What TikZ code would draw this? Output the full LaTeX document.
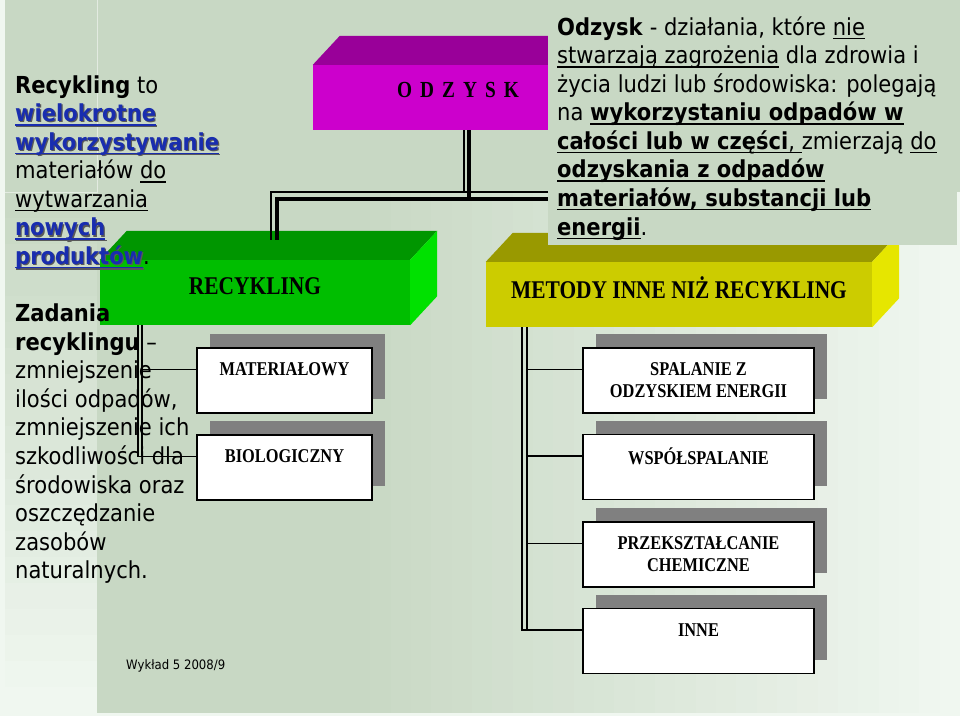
\documentclass[tikz,border=0pt]{standalone}
\usepackage{fontspec}
\usetikzlibrary{calc,shadows}
\newfontfamily\tah[FakeStretch=0.9]{DejaVu Sans}
\newfontfamily\tms[FakeStretch=0.84]{Liberation Serif}
\definecolor{bgA}{RGB}{200,216,196}
\definecolor{bgL}{RGB}{240,247,240}
\definecolor{mfront}{RGB}{204,0,204}
\definecolor{mtop}{RGB}{153,0,153}
\definecolor{gfront}{RGB}{0,190,0}
\definecolor{gtop}{RGB}{0,150,0}
\definecolor{gside}{RGB}{0,225,0}
\definecolor{yfront}{RGB}{204,204,0}
\definecolor{ytop}{RGB}{153,153,0}
\definecolor{yside}{RGB}{230,230,0}
\definecolor{shgray}{RGB}{128,128,128}
\definecolor{linkblue}{RGB}{25,45,175}
\newcommand\myul[1]{\setbox0\hbox{#1}\rlap{\rule[-4pt]{\wd0}{1.5pt}}\box0\relax}
\newcommand\lnk[1]{\rlap{\kern1.2pt\raisebox{-1.2pt}{\color{black!65}\bfseries\myul{#1}}}{\color{linkblue}\bfseries\myul{#1}}}
\tikzset{
  face/.style={inner sep=0pt, minimum height=65pt, font=\tms\bfseries\fontsize{25.5}{30}\selectfont},
  leaf/.style={draw=black, line width=1.5pt, fill=white, minimum width=231pt, minimum height=65pt,
    inner sep=0pt, align=center, font=\tms\bfseries\fontsize{19.5}{22}\selectfont,
    general shadow={fill=shgray, shadow xshift=13pt, shadow yshift=14pt}},
  lleaf/.style={leaf, minimum width=175pt},
  thickc/.style={line width=4.5pt, black},
  thinc/.style={line width=1.5pt, black},
  branch/.style={line width=1.8pt, black},
  txt/.style={anchor=base west, inner sep=0pt, font=\tah\fontsize{23.4}{28}\selectfont},
}
\begin{document}
\begin{tikzpicture}[x=1pt,y=-1pt]
\useasboundingbox (0,0) rectangle (960,716);
% background
\fill[bgL] (0,0) rectangle (960,716);
\fill[bgA] (5,0) rectangle (960,192);
\fill[bgA] (97,192) rectangle (351,713);
\foreach \i in {0,...,29}{
  \pgfmathtruncatemacro\p{round(100-\i*100/29)}
  \pgfmathsetmacro\xa{350+\i*20.33}
  \pgfmathsetmacro\xb{350+(\i+1)*20.33+0.6}
  \fill[bgA!\p!bgL] (\xa,192) rectangle (\xb,713);
}
\foreach \i in {0,...,19}{
  \pgfmathtruncatemacro\p{round(100-\i*100/19)}
  \pgfmathsetmacro\ya{192+\i*26.05}
  \pgfmathsetmacro\yb{192+(\i+1)*26.05+0.6}
  \fill[bgA!\p!bgL] (5,\ya) rectangle (97,\yb);
}
\draw[white, line width=0.6pt, opacity=.5] (97,0) -- (97,192) -- (5,192);

% ODZYSK box
\node[face, fill=mfront, minimum width=290pt] (odz) at (458,97.5) {};
\fill[mtop] (odz.north west) -- ++(27,-29) -- ($(odz.north east)+(27,-29)$) -- (odz.north east) -- cycle;
\node[face, font=\tms\bfseries\fontsize{23}{26}\selectfont] (odzt) at (458,90) {O\hspace{8pt}D\hspace{8pt}Z\hspace{8pt}Y\hspace{8pt}S\hspace{8pt}K};

% RECYKLING box
\node[face, fill=gfront, minimum width=310pt] (rec) at (255,292.5) {\raisebox{6pt}[\height][\depth]{RECYKLING}};
\fill[gtop] (rec.north west) -- ++(27,-29) -- ($(rec.north east)+(27,-29)$) -- (rec.north east) -- cycle;
\fill[gside] (rec.north east) -- ++(27,-29) -- ($(rec.south east)+(27,-29)$) -- (rec.south east) -- cycle;

% METODY box
\node[face, fill=yfront, minimum width=386pt] (met) at (679,294.5) {\raisebox{7pt}[\height][\depth]{METODY INNE NIŻ RECYKLING}};
\fill[ytop] (met.north west) -- ++(27,-29) -- ($(met.north east)+(27,-29)$) -- (met.north east) -- cycle;
\fill[yside] (met.north east) -- ++(27,-29) -- ($(met.south east)+(27,-29)$) -- (met.south east) -- cycle;

% top connectors
\draw[thinc] ($(rec.north west)+(171,-20)$) |- ($(odz.south)+(6,62)$) -| ($(met.north west)+(194,-22)$);
\draw[thinc] ($(odz.south)+(6,0)$) -- ($(odz.south)+(6,62)$);
\draw[thickc] ($(rec.north west)+(177,-20)$) |- ($(odz.south)+(11,69)$) -| ($(met.north west)+(200,-22)$);
\draw[thickc] ($(odz.south)+(11,0)$) -- ($(odz.south)+(11,69)$);

% left leaves
\node[lleaf] (mat) at (284.5,380.5) {MATERIAŁOWY\\\mbox{}};
\node[lleaf] (bio) at (284.5,467.5) {BIOLOGICZNY\\\mbox{}};
\draw[branch] ($(rec.south west)+(38,0)$) |- ($(bio.west)+(0,-11)$);
\draw[branch] ($(rec.south west)+(42,0)$) |- ($(bio.west)+(0,-11)$);
\draw[branch] ($(rec.south west)+(42,0)$) |- ($(mat.west)+(0,-11)$);

% right leaves
\node[leaf] (spal) at (698.5,380.5) {SPALANIE Z\\ODZYSKIEM ENERGII};
\node[leaf] (wsp) at (698.5,467) {WSPÓŁSPALANIE\\\mbox{}};
\node[leaf] (prz) at (698.5,554.5) {PRZEKSZTAŁCANIE\\CHEMICZNE};
\node[leaf] (inne) at (698.5,641) {INNE\\\mbox{}};
\draw[branch] ($(met.south west)+(36,0)$) |- ($(inne.west)+(0,-11)$);
\draw[branch] ($(met.south west)+(41,0)$) |- ($(inne.west)+(0,-11)$);
\draw[branch] ($(met.south west)+(41,0)$) |- ($(prz.west)+(0,-11)$);
\draw[branch] ($(met.south west)+(41,0)$) |- ($(wsp.west)+(0,-11)$);
\draw[branch] ($(met.south west)+(41,0)$) |- ($(spal.west)+(0,-11)$);

% right text panel
\fill[bgA] (548,0) rectangle (957,245);
\node[txt] (r0) at (557,35) {\textbf{Odzysk} - działania, które \myul{nie}};
\node[txt] (r1) at (557,63.6) {\myul{stwarzają zagrożenia} dla zdrowia i};
\node[txt] (r2) at (557,92.1) {życia ludzi lub środowiska: polegają};
\node[txt] (r3) at (557,120.7) {na \myul{\textbf{wykorzystaniu odpadów w}}};
\node[txt] (r4) at (557,149.3) {\myul{\textbf{całości lub w części}, }zmierzają \myul{do}};
\node[txt] (r5) at (557,177.9) {\myul{\textbf{odzyskania z odpadów}}};
\node[txt] (r6) at (557,206.4) {\myul{\textbf{materiałów, substancji lub}}};
\node[txt] (r7) at (557,235.0) {\myul{\textbf{energii}}.};

% left text
\node[txt] (l0) at (15,93.0) {\textbf{Recykling} to};
\node[txt] (l1) at (15,121.6) {\lnk{wielokrotne}};
\node[txt] (l2) at (15,150.1) {\lnk{wykorzystywanie}};
\node[txt] (l3) at (15,178.7) {materiałów \myul{do}};
\node[txt] (l4) at (15,207.3) {\myul{wytwarzania}};
\node[txt] (l5) at (15,235.9) {\lnk{nowych}};
\node[txt] (l6) at (15,264.4) {\lnk{produktów}.};
\node[txt] (l8) at (15,321.6) {\textbf{Zadania}};
\node[txt] (l9) at (15,350.1) {\textbf{recyklingu} –};
\node[txt] (l10) at (15,378.7) {zmniejszenie};
\node[txt] (l11) at (15,407.3) {ilości odpadów,};
\node[txt] (l12) at (15,435.9) {zmniejszenie ich};
\node[txt] (l13) at (15,464.4) {szkodliwości dla};
\node[txt] (l14) at (15,493.0) {środowiska oraz};
\node[txt] (l15) at (15,521.6) {oszczędzanie};
\node[txt] (l16) at (15,550.1) {zasobów};
\node[txt] (l17) at (15,578.7) {naturalnych.};

% footer
\node[txt, font=\tah\fontsize{13}{16}\selectfont] (foot) at (126,669) {Wykład 5 2008/9};
\end{tikzpicture}
\end{document}
